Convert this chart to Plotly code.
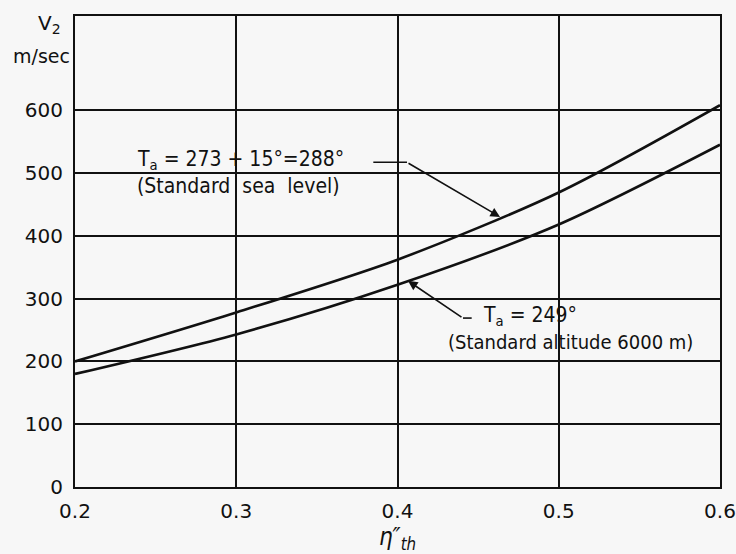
import plotly.graph_objects as go
import numpy as np

# Thermal efficiency (x axis) and jet velocity V2 in m/sec
eta_th = [0.2, 0.3, 0.4, 0.5, 0.6]
v2_sea_level = [200, 278, 362, 469, 608]      # Ta = 288°
v2_altitude = [180, 243, 322, 418, 545]       # Ta = 249°

x_ticks = [0.2, 0.3, 0.4, 0.5, 0.6]
x_tick_text = ["0.2", "0.3", "0.4", "0.5", "0.6"]
y_ticks = [0, 100, 200, 300, 400, 500, 600]
y_tick_text = ["0", "100", "200", "300", "400", "500", "600"]

NOTE_FONT = "DejaVu Sans Condensed, DejaVu Sans, sans-serif"
TICK_FONT = "DejaVu Sans, sans-serif"
INK = "#111111"

fig = go.Figure()
for ys in (v2_sea_level, v2_altitude):
    fig.add_trace(go.Scatter(
        x=eta_th, y=ys, mode="lines",
        line=dict(color=INK, width=2.6, shape="spline", smoothing=0.8),
        showlegend=False, hoverinfo="skip"))

# arrow tips sit on the curves
tip_up_x = 0.4636
tip_up_y = float(np.interp(tip_up_x, eta_th, v2_sea_level))
tip_lo_x = 0.4065
tip_lo_y = float(np.interp(tip_lo_x, eta_th, v2_altitude))

note = dict(family=NOTE_FONT, size=21, color=INK)
annotations = [
    dict(x=tip_up_x, y=tip_up_y, ax=0.4059, ay=517, xref="x", yref="y",
         axref="x", ayref="y", showarrow=True, arrowhead=2, arrowsize=1.2,
         arrowwidth=1.6, arrowcolor=INK, text=""),
    dict(x=tip_lo_x, y=tip_lo_y, ax=0.4406, ay=269, xref="x", yref="y",
         axref="x", ayref="y", showarrow=True, arrowhead=2, arrowsize=1.2,
         arrowwidth=1.6, arrowcolor=INK, text=""),
    dict(x=0.2372, y=520, xref="x", yref="y", xanchor="left", yanchor="middle",
         showarrow=False, text="T<sub>a</sub> = 273 + 15°=288°", font=note),
    dict(x=0.2372, y=480, xref="x", yref="y", xanchor="left", yanchor="middle",
         showarrow=False, text="(Standard  sea  level)", font=note),
    dict(x=0.4515, y=272, xref="x", yref="y", xanchor="left", yanchor="middle",
         showarrow=False, text="T<sub>a</sub> = 249°", font=note),
    dict(x=0.4300, y=231, xref="x", yref="y", xanchor="left", yanchor="middle",
         showarrow=False, text="(Standard altitude 6000 m)",
         font=dict(family=NOTE_FONT, size=20, color=INK)),
    dict(x=-0.039, y=737, xref="paper", yref="y", xanchor="center", yanchor="middle",
         showarrow=False, text="V<sub>2</sub>",
         font=dict(family=TICK_FONT, size=20, color=INK)),
    dict(x=-0.004, y=686, xref="paper", yref="y", xanchor="right", yanchor="middle",
         showarrow=False, text="m/sec",
         font=dict(family=TICK_FONT, size=19, color=INK)),
]

shapes = [
    dict(type="line", xref="x", yref="y", x0=0.385, y0=517, x1=0.4059, y1=517,
         line=dict(color=INK, width=1.6)),
    dict(type="line", xref="x", yref="y", x0=0.4406, y0=269, x1=0.4460, y1=269,
         line=dict(color=INK, width=1.6)),
]

fig.update_layout(
    width=736, height=554,
    margin=dict(l=75, r=16, t=16, b=67),
    paper_bgcolor="#f7f7f7", plot_bgcolor="#f7f7f7",
    font=dict(family=TICK_FONT, size=20, color=INK),
    annotations=annotations, shapes=shapes,
    xaxis=dict(range=[0.2, 0.6], tickvals=x_ticks, ticktext=x_tick_text,
               automargin=False,
               showgrid=True, gridcolor=INK, gridwidth=1.5,
               showline=True, linecolor=INK, linewidth=2, mirror=True,
               ticks="outside", ticklen=5, tickcolor="rgba(0,0,0,0)",
               tickfont=dict(family=TICK_FONT, size=20, color=INK),
               zeroline=False,
               title=dict(text="<i>η″<sub>th</sub></i>", standoff=4,
                          font=dict(family=NOTE_FONT, size=24, color=INK))),
    yaxis=dict(range=[0, 750], tickvals=y_ticks, ticktext=y_tick_text,
               automargin=False,
               showgrid=True, gridcolor=INK, gridwidth=1.5,
               showline=True, linecolor=INK, linewidth=2, mirror=True,
               ticks="outside", ticklen=6, tickcolor="rgba(0,0,0,0)",
               tickfont=dict(family=TICK_FONT, size=20, color=INK),
               zeroline=False),
)

fig.write_html("out.html")
